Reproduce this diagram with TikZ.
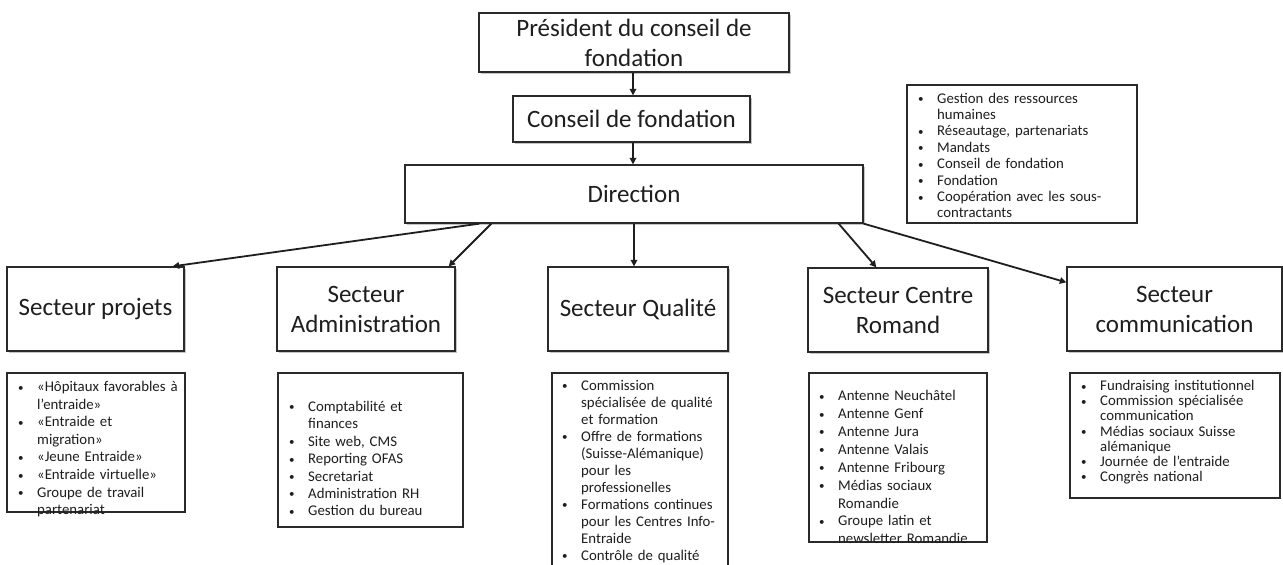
\documentclass[tikz,border=0pt]{standalone}
\usepackage{fontspec}
\setmainfont{Carlito}
\usetikzlibrary{arrows.meta,shadows}
\definecolor{ink}{HTML}{1E1E1E}
\definecolor{frame}{HTML}{2A2A2A}
\newcommand{\bi}[1]{\par\noindent\hangindent=19pt\hangafter=1\makebox[19pt][l]{\strut\raisebox{0.5pt}{\fontsize{11}{11}\selectfont\textbullet}}#1\par}
\tikzset{
  tbox/.style={draw=frame, line width=1.3pt, fill=white, inner sep=0pt, align=center,
    text=ink, font=\fontsize{25}{30}\selectfont,
    drop shadow={shadow xshift=2pt, shadow yshift=-2pt, fill=gray, opacity=0.45}},
  lbox/.style={draw=frame, line width=1.1pt, fill=white, inner sep=0pt,
    drop shadow={shadow xshift=1.2pt, shadow yshift=-1.2pt, fill=gray, opacity=0.35}},
  ltext/.style={anchor=north west, inner sep=0pt, text width=300pt, text=ink},
  arr/.style={draw=ink, line width=1.8pt, -{Triangle[length=6.5pt,width=6.5pt]}}
}
\begin{document}
\begin{tikzpicture}[x=1pt,y=-1pt]
\useasboundingbox[fill=white] (0,0) rectangle (1283,565);
% title boxes
\node[tbox, minimum width=310pt, minimum height=59pt] (pres) at (634,42.5) {Président du conseil de\\fondation};
\node[tbox, minimum width=237pt, minimum height=46pt] (cons) at (631.5,119) {Conseil de fondation};
\node[tbox, minimum width=458pt, minimum height=58pt] (dir) at (634,194) {Direction};
\node[tbox, minimum width=177pt, minimum height=84pt] (proj) at (95.5,309) {Secteur projets};
\node[tbox, minimum width=178pt, minimum height=84pt] (adm) at (366,309) {Secteur\\Administration};
\node[tbox, minimum width=180pt, minimum height=84pt] (qual) at (638,309) {Secteur Qualité};
\node[tbox, minimum width=180pt, minimum height=84pt] (rom) at (898,310) {Secteur Centre\\Romand};
\node[tbox, minimum width=215pt, minimum height=84pt] (comm) at (1174.5,309) {Secteur\\communication};
% list boxes
\node[lbox, minimum width=230pt, minimum height=138pt] (ltr) at (1022,154) {};
\node[lbox, minimum width=178pt, minimum height=139pt] (lproj) at (96,442.5) {};
\node[lbox, minimum width=185pt, minimum height=154pt] (ladm) at (370.5,450) {};
\node[lbox, minimum width=176pt, minimum height=207pt] (lqual) at (640,476.5) {};
\node[lbox, minimum width=178pt, minimum height=169pt] (lrom) at (898,457.5) {};
\node[lbox, minimum width=210pt, minimum height=125pt] (lcomm) at (1175,435.5) {};
% list texts
\node[ltext, font=\fontsize{14.8}{16.4}\selectfont] (ttr) at (918,86.5) {%
\bi{Gestion des ressources\newline humaines}
\bi{Réseautage, partenariats}
\bi{Mandats}
\bi{Conseil de fondation}
\bi{Fondation}
\bi{Coopération avec les sous-\newline contractants}};
\node[ltext, font=\fontsize{14.8}{17.6}\selectfont] (tproj) at (18,373.7) {%
\bi{«Hôpitaux favorables à\newline l’entraide»}
\bi{«Entraide et\newline migration»}
\bi{«Jeune Entraide»}
\bi{«Entraide virtuelle»}
\bi{Groupe de travail\newline partenariat}};
\node[ltext, font=\fontsize{14.8}{17.4}\selectfont] (tadm) at (289,393.8) {%
\bi{Comptabilité et\newline finances}
\bi{Site web, CMS}
\bi{Reporting OFAS}
\bi{Secretariat}
\bi{Administration RH}
\bi{Gestion du bureau}};
\node[ltext, font=\fontsize{14.8}{17.0}\selectfont] (tqual) at (562,373) {%
\bi{Commission\newline spécialisée de qualité\newline et formation}
\bi{Offre de formations\newline (Suisse-Alémanique)\newline pour les\newline professionelles}
\bi{Formations continues\newline pour les Centres Info-\newline Entraide}
\bi{Contrôle de qualité}};
\node[ltext, font=\fontsize{14.8}{17.9}\selectfont] (trom) at (819,382.5) {%
\bi{Antenne Neuchâtel}
\bi{Antenne Genf}
\bi{Antenne Jura}
\bi{Antenne Valais}
\bi{Antenne Fribourg}
\bi{Médias sociaux\newline Romandie}
\bi{Groupe latin et\newline newsletter Romandie}};
\node[ltext, font=\fontsize{14.8}{15.1}\selectfont] (tcomm) at (1081,375.4) {%
\bi{Fundraising institutionnel}
\bi{Commission spécialisée\newline communication}
\bi{Médias sociaux Suisse\newline alémanique}
\bi{Journée de l’entraide}
\bi{Congrès national}};
% connectors
\draw[arr] (pres.south -| 633,0) -- (cons.north -| 633,0);
\draw[arr] (cons.south -| 633,0) -- (dir.north -| 633,0);
\draw[arr] ([xshift=75pt]dir.south west) -- ([xshift=-12pt]proj.north east);
\draw[arr] ([xshift=87pt]dir.south west) -- ([xshift=-7pt]adm.north east);
\draw[arr] (dir.south) -- (dir.south |- qual.north);
\draw[arr] ([xshift=-25pt]dir.south east) -- ([xshift=69pt]rom.north west);
\draw[arr] (dir.south east) -- ([yshift=-16pt]comm.north west);
\end{tikzpicture}
\end{document}
